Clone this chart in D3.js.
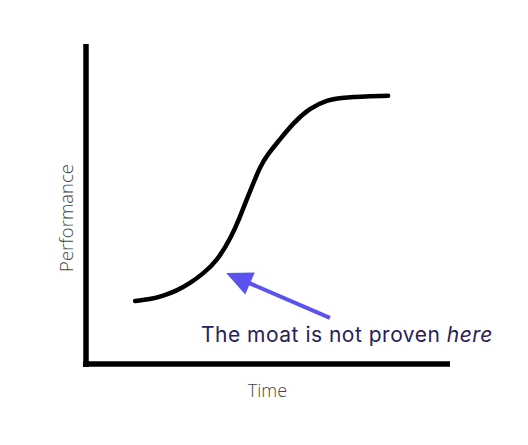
<!DOCTYPE html>
<html>
<head>
<meta charset="utf-8">
<script src="https://cdn.jsdelivr.net/npm/d3@7"></script>
<style>
  body { margin: 0; background: #fff; }
  svg { display: block; }
</style>
</head>
<body>
<div id="chart"></div>
<script>
// S-curve (time vs performance, 0-100 units)
var timeValues = [13.5, 17.6, 21.2, 24.9, 28.6, 32.2, 35.9, 40.0, 42.3, 44.1, 46.0, 47.8, 50.1, 52.8, 56.9, 61.5, 66.2, 70.6, 83.0];
var perfValues = [19.7, 20.2, 21.3, 22.9, 25.2, 28.3, 32.0, 39.8, 46.0, 51.3, 56.5, 61.7, 65.8, 69.5, 75.3, 80.0, 82.5, 83.4, 83.8];

// annotation arrow: from tail to tip, in data units
var arrowTail = [67.0, 14.4];
var arrowTip = [38.5, 28.4];
var noteText = "The moat is not proven ";
var noteItalic = "here";

var width = 528;
var height = 445;

var svg = d3.select("#chart").append("svg")
    .attr("width", width)
    .attr("height", height);

var x = d3.scaleLinear().domain([0, 100]).range([86, 450]);
var y = d3.scaleLinear().domain([0, 100]).range([364, 44]);

// axes: just the thick domain lines, no ticks
var xAxis = svg.append("g")
    .attr("transform", "translate(0," + y(0) + ")")
    .call(d3.axisBottom(x).tickValues([]).tickSizeOuter(0));
xAxis.select(".domain")
    .attr("d", "M" + (x(0) - 3) + ",0H" + x(100))
    .attr("stroke", "#000")
    .attr("stroke-width", 5.5);

var yAxis = svg.append("g")
    .attr("transform", "translate(" + x(0) + ",0)")
    .call(d3.axisLeft(y).tickValues([]).tickSizeOuter(0));
yAxis.select(".domain")
    .attr("d", "M0," + (y(0) + 3) + "V" + y(100))
    .attr("stroke", "#000")
    .attr("stroke-width", 5.5);

var points = timeValues.map(function(t, i) {
    return {t: t, p: perfValues[i]};
});

var line = d3.line()
    .x(function(d) { return x(d.t); })
    .y(function(d) { return y(d.p); })
    .curve(d3.curveBasis);

svg.append("path")
    .datum(points)
    .attr("fill", "none")
    .attr("stroke", "#000")
    .attr("stroke-width", 4.5)
    .attr("stroke-linecap", "round")
    .attr("d", line);

// arrow
var arrowColor = "#5b52ef";
var tx = x(arrowTail[0]), ty = y(arrowTail[1]);
var hx = x(arrowTip[0]), hy = y(arrowTip[1]);
var ang = Math.atan2(hy - ty, hx - tx);
var headLen = 26;
var headHalf = 12;
var bx = hx - headLen * Math.cos(ang);
var by = hy - headLen * Math.sin(ang);

svg.append("line")
    .attr("x1", tx).attr("y1", ty)
    .attr("x2", bx + 4 * Math.cos(ang)).attr("y2", by + 4 * Math.sin(ang))
    .attr("stroke", arrowColor)
    .attr("stroke-width", 4);

svg.append("path")
    .attr("fill", arrowColor)
    .attr("d", "M" + hx + "," + hy +
        "L" + (bx + headHalf * Math.sin(ang)) + "," + (by - headHalf * Math.cos(ang)) +
        "L" + (bx - headHalf * Math.sin(ang)) + "," + (by + headHalf * Math.cos(ang)) + "Z");

// annotation text
var note = svg.append("text")
    .attr("x", 201)
    .attr("y", 342)
    .attr("font-family", "Inter, sans-serif")
    .attr("font-size", 21)
    .attr("letter-spacing", 0.5)
    .attr("fill", "#27215c");
note.append("tspan").text(noteText);
note.append("tspan").attr("font-style", "italic").text(noteItalic);

// axis titles
svg.append("text")
    .attr("x", 267.5)
    .attr("y", 397)
    .attr("text-anchor", "middle")
    .attr("font-family", "'Open Sans', sans-serif")
    .attr("font-weight", 300)
    .attr("font-size", 18)
    .attr("fill", "#444")
    .text("Time");

svg.append("text")
    .attr("transform", "translate(73,218) rotate(-90)")
    .attr("text-anchor", "middle")
    .attr("font-family", "'Open Sans', sans-serif")
    .attr("font-weight", 300)
    .attr("font-size", 18.5)
    .attr("fill", "#444")
    .text("Performance");
</script>
</body>
</html>
